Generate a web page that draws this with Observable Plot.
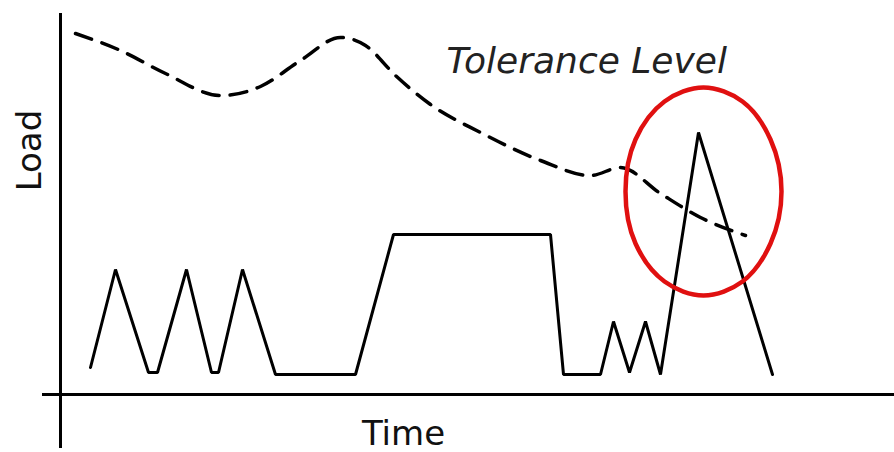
<!DOCTYPE html>
<html>
<head>
<meta charset="utf-8">
<script src="https://cdn.jsdelivr.net/npm/d3@7"></script>
<script src="https://cdn.jsdelivr.net/npm/@observablehq/plot@0.6"></script>
<style>
  html, body { margin: 0; padding: 0; background: #fff; }
</style>
</head>
<body>
<div id="chart"></div>
<script>
// Load over time (arbitrary units; origin at axes crossing)
const loadTime = [30, 55, 88, 97, 126, 151, 158, 182, 215, 295, 333, 490, 503, 540, 553, 569, 585, 600, 638, 712];
const loadValue = [27, 125, 22, 22, 125, 22, 22, 125, 20, 20, 160, 160, 20, 20, 73, 22, 73, 20, 262, 20];

// Tolerance level (dashed curve)
const tolTime = [15, 60, 105, 160, 200, 240, 280, 305, 335, 370, 420, 480, 530, 560, 600, 640, 685];
const tolValue = [361, 344, 321, 299, 308, 334, 357, 349, 319, 290, 262, 234, 219, 227, 201, 177, 159];

// Highlight ellipse outline points (around the overload peak)
const ringTime = [721, 710, 682, 643, 604, 575, 565, 575, 604, 643, 682, 710];
const ringValue = [203, 255, 293, 307, 293, 255, 203, 151, 113, 99, 113, 151];

// Labels
const xLabel = "Time";
const yLabel = "Load";
const tolLabel = "Tolerance Level";

const load = loadTime.map((t, i) => ({t, v: loadValue[i]}));
const tol = tolTime.map((t, i) => ({t, v: tolValue[i]}));
const ring = ringTime.map((t, i) => ({t, v: ringValue[i]}));

const font = "DejaVu Sans, Verdana, sans-serif";

const chart = Plot.plot({
  width: 894,
  height: 452,
  margin: 0,
  x: {domain: [-60, 834], axis: null},
  y: {domain: [-58, 394], axis: null},
  style: {background: "#fff", fontFamily: font},
  marks: [
    // axes
    Plot.ruleX([0], {y1: -54, y2: 381, stroke: "#000", strokeWidth: 3}),
    Plot.ruleY([0], {x1: -18, x2: 834, stroke: "#000", strokeWidth: 3}),
    // tolerance
    Plot.line(tol, {x: "t", y: "v", curve: "monotone-x", stroke: "#000", strokeWidth: 3.5, strokeDasharray: "17,11"}),
    // load
    Plot.line(load, {x: "t", y: "v", stroke: "#000", strokeWidth: 3, strokeLinejoin: "miter"}),
    // red ring
    Plot.line(ring, {x: "t", y: "v", curve: "catmull-rom-closed", stroke: "#e01010", strokeWidth: 4.5}),
    // labels
    Plot.text([xLabel], {x: 343, y: -40, text: d => d, fontSize: 34, fill: "#111"}),
    Plot.text([yLabel], {x: -30, y: 244, text: d => d, fontSize: 34, rotate: -90, fill: "#111"}),
    Plot.text([tolLabel], {x: 386, y: 333, text: d => d, fontSize: 36, fontStyle: "italic", textAnchor: "start", fill: "#222"})
  ]
});
document.getElementById("chart").appendChild(chart);
</script>
</body>
</html>
